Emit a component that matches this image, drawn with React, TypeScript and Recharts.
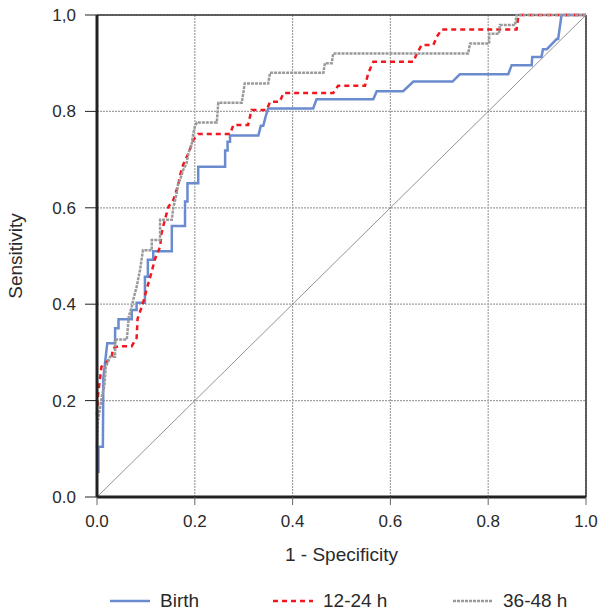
import { CartesianGrid, Legend, Line, LineChart, ReferenceLine, XAxis, YAxis } from "recharts";

// ROC points as [1 - specificity, sensitivity]
const birth: [number, number][] = [
  [0.003, 0.05], [0.003, 0.104], [0.012, 0.104], [0.013, 0.247], [0.021, 0.319], [0.037, 0.319],
  [0.037, 0.35], [0.044, 0.35], [0.044, 0.369], [0.071, 0.369], [0.071, 0.388], [0.081, 0.388],
  [0.081, 0.403], [0.098, 0.403], [0.098, 0.457], [0.104, 0.457], [0.104, 0.492], [0.115, 0.492],
  [0.115, 0.51], [0.153, 0.51], [0.153, 0.562], [0.18, 0.562], [0.18, 0.613], [0.185, 0.613],
  [0.185, 0.651], [0.207, 0.651], [0.207, 0.685], [0.262, 0.685], [0.262, 0.719], [0.267, 0.719],
  [0.267, 0.737], [0.272, 0.737], [0.272, 0.75], [0.33, 0.75], [0.335, 0.77], [0.34, 0.77],
  [0.345, 0.79], [0.35, 0.806], [0.442, 0.806], [0.449, 0.825], [0.565, 0.825], [0.572, 0.842],
  [0.626, 0.842], [0.647, 0.862], [0.727, 0.862], [0.742, 0.877], [0.841, 0.877], [0.848, 0.896],
  [0.889, 0.896], [0.89, 0.913], [0.909, 0.913], [0.912, 0.929], [0.92, 0.929], [0.94, 0.95],
  [0.943, 0.95], [0.95, 1], [1, 1],
];

const h12to24: [number, number][] = [
  [0, 0.17], [0.002, 0.21], [0.009, 0.27], [0.03, 0.29], [0.033, 0.309], [0.044, 0.313],
  [0.071, 0.313], [0.081, 0.33], [0.083, 0.37], [0.094, 0.402], [0.101, 0.429], [0.112, 0.468],
  [0.119, 0.495], [0.129, 0.519], [0.132, 0.547], [0.136, 0.564], [0.146, 0.602], [0.156, 0.616],
  [0.166, 0.647], [0.17, 0.668], [0.176, 0.689], [0.187, 0.713], [0.197, 0.741], [0.207, 0.753],
  [0.272, 0.753], [0.279, 0.772], [0.309, 0.772], [0.316, 0.803], [0.347, 0.803], [0.354, 0.82],
  [0.374, 0.82], [0.381, 0.838], [0.483, 0.838], [0.493, 0.853], [0.548, 0.853], [0.555, 0.88],
  [0.565, 0.903], [0.647, 0.903], [0.654, 0.92], [0.664, 0.938], [0.688, 0.938], [0.695, 0.955],
  [0.705, 0.97], [0.858, 0.97], [0.862, 1], [1, 1],
];

const h36to48: [number, number][] = [
  [0, 0.1], [0.002, 0.16], [0.007, 0.19], [0.01, 0.21], [0.015, 0.23], [0.018, 0.27],
  [0.027, 0.291], [0.037, 0.291], [0.037, 0.327], [0.061, 0.327], [0.065, 0.374], [0.072, 0.398],
  [0.074, 0.409], [0.081, 0.436], [0.088, 0.471], [0.094, 0.512], [0.112, 0.512], [0.112, 0.533],
  [0.129, 0.533], [0.129, 0.575], [0.153, 0.575], [0.156, 0.6], [0.163, 0.63], [0.166, 0.651],
  [0.17, 0.658], [0.176, 0.678], [0.183, 0.692], [0.187, 0.713], [0.194, 0.734], [0.197, 0.755],
  [0.2, 0.768], [0.204, 0.777], [0.245, 0.777], [0.248, 0.818], [0.296, 0.818], [0.299, 0.837],
  [0.302, 0.858], [0.35, 0.858], [0.354, 0.88], [0.463, 0.88], [0.466, 0.9], [0.48, 0.9],
  [0.483, 0.92], [0.759, 0.92], [0.763, 0.941], [0.802, 0.941], [0.802, 0.961], [0.822, 0.961],
  [0.824, 0.979], [0.855, 0.979], [0.858, 1], [1, 1],
];

const ticks = [0, 0.2, 0.4, 0.6, 0.8, 1];

const SERIES = [
  { name: "Birth", points: birth, color: "#6b8bcf", dash: undefined as string | undefined },
  { name: "12-24 h", points: h12to24, color: "#f2161e", dash: "5 4" },
  { name: "36-48 h", points: h36to48, color: "#9a9a9a", dash: "3 1" },
];

const LEGEND_LEFT = [110, 273, 453];

const FONT = "'Liberation Sans', Arial, sans-serif";

function RocLegend() {
  return (
    <div style={{ position: "relative", width: 600, height: 50, fontFamily: FONT }}>
      {SERIES.map((s, i) => (
        <div
          key={s.name}
          style={{ position: "absolute", left: LEGEND_LEFT[i], top: 30, height: 20, display: "flex", alignItems: "center" }}
        >
          <svg width={40} height={6}>
            <line x1={0} y1={3} x2={40} y2={3} stroke={s.color} strokeWidth={2.5} strokeDasharray={s.dash} />
          </svg>
          <span style={{ marginLeft: 10, fontSize: 19, color: "#2a2a2a", lineHeight: "20px" }}>{s.name}</span>
        </div>
      ))}
    </div>
  );
}

export default function App() {
  return (
    <div style={{ position: "absolute", top: 0, left: 0, width: 600, height: 616, background: "#fff" }}>
      <LineChart width={600} height={616} margin={{ top: 15, right: 14, left: 0, bottom: 5 }}>
        <CartesianGrid stroke="#a0a0a0" strokeWidth={1.2} strokeDasharray="2 1" />
        <XAxis
          type="number"
          dataKey="x"
          domain={[0, 1]}
          ticks={ticks}
          height={64}
          tickSize={8}
          tickMargin={10}
          tickFormatter={(v: number) => v.toFixed(1)}
          tick={{ fontSize: 17, fill: "#2a2a2a", fontFamily: FONT }}
          tickLine={{ stroke: "#666" }}
          axisLine={{ stroke: "#222", strokeWidth: 3 }}
          label={{ value: "1 - Specificity", position: "insideBottom", offset: 0, fontSize: 19, fill: "#2a2a2a", fontFamily: FONT }}
        />
        <YAxis
          type="number"
          domain={[0, 1]}
          ticks={ticks}
          width={97}
          tickSize={12}
          tickMargin={9}
          tickFormatter={(v: number) => (v === 1 ? "1,0" : v.toFixed(1))}
          tick={{ fontSize: 17, fill: "#2a2a2a", fontFamily: FONT }}
          tickLine={{ stroke: "#222" }}
          axisLine={{ stroke: "#222", strokeWidth: 3 }}
          label={{
            value: "Sensitivity",
            angle: -90,
            position: "insideLeft",
            offset: 15,
            fontSize: 19,
            fill: "#2a2a2a",
            fontFamily: FONT,
            style: { textAnchor: "middle" },
          }}
        />
        <ReferenceLine y={1} stroke="#333" strokeWidth={1.5} />
        <ReferenceLine x={1} stroke="#333" strokeWidth={1.5} />
        <ReferenceLine
          segment={[{ x: 0, y: 0 }, { x: 1, y: 1 }]}
          stroke="#777"
          strokeWidth={0.8}
        />
        {SERIES.map((s) => (
          <Line
            key={s.name}
            name={s.name}
            data={s.points.map(([x, y]) => ({ x, y }))}
            dataKey="y"
            type="linear"
            stroke={s.color}
            strokeWidth={2.5}
            strokeDasharray={s.dash}
            dot={false}
            activeDot={false}
            isAnimationActive={false}
          />
        ))}
        <Legend verticalAlign="bottom" content={<RocLegend />} />
      </LineChart>
    </div>
  );
}
